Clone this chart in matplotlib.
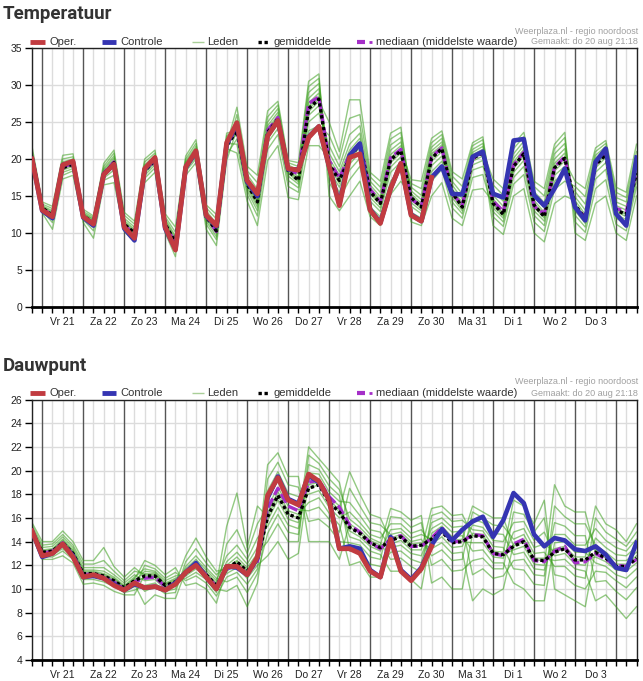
import numpy as np
import matplotlib
matplotlib.use('Agg')
import matplotlib.pyplot as plt
from matplotlib.lines import Line2D

plt.rcParams['font.family'] = ['Liberation Sans', 'DejaVu Sans']

# tijdstappen van 6 uur, vanaf do 20 aug 18:00
dag_labels = ['Vr 21', 'Za 22', 'Zo 23', 'Ma 24', 'Di 25', 'Wo 26', 'Do 27',
              'Vr 28', 'Za 29', 'Zo 30', 'Ma 31', 'Di 1', 'Wo 2', 'Do 3']

# ---------------- Temperatuur ----------------
temp_oper = [20.0, 13.1, 12.2, 19.2, 19.7, 12.2, 11.2, 17.9, 19.3, 10.8,
             9.3, 18.7, 20.2, 10.8, 7.7, 18.9, 21.1, 12.4, 11.0, 22.2,
             24.9, 17.1, 15.3, 23.1, 25.2, 18.7, 18.5, 22.9, 24.4, 19.0,
             13.7, 20.2, 20.7, 13.1, 11.3, 16.0, 19.4, 12.4, 11.6, 17.5]

temp_controle = [20.0, 13.0, 12.0, 19.2, 19.6, 12.1, 11.0, 17.9, 19.3, 10.6,
                 9.0, 18.6, 20.1, 10.6, 7.8, 18.8, 21.0, 12.3, 10.9, 22.0,
                 24.7, 16.9, 15.0, 23.2, 25.2, 18.6, 18.6, 23.0, 24.4, 19.0,
                 13.9, 20.5, 22.1, 13.2, 11.4, 16.0, 19.4, 12.5, 11.6, 17.5,
                 19.0, 15.3, 15.2, 20.3, 21.0, 15.3, 14.8, 22.5, 22.7, 15.1,
                 13.7, 16.0, 18.7, 13.5, 11.7, 19.6, 21.4, 12.6, 11.0, 20.2]

temp_gemiddelde = [20.3, 13.4, 12.4, 18.8, 19.3, 12.3, 11.4, 18.0, 19.5, 11.2,
                   10.0, 18.4, 19.8, 11.2, 8.7, 19.0, 20.8, 12.2, 10.3, 21.8,
                   23.8, 16.6, 14.2, 23.6, 25.4, 18.4, 17.1, 26.8, 28.1, 19.3,
                   17.1, 20.2, 22.0, 15.6, 14.0, 19.9, 21.1, 14.8, 13.5, 20.1,
                   21.4, 15.5, 13.5, 20.1, 20.8, 14.0, 12.5, 19.0, 20.7, 13.8,
                   12.2, 18.8, 20.1, 13.8, 11.9, 19.2, 20.6, 13.1, 12.5, 18.1]

temp_mediaan = [20.2, 13.4, 12.3, 18.9, 19.4, 12.3, 11.3, 18.1, 19.6, 11.1,
                9.8, 18.5, 19.9, 11.1, 8.6, 19.1, 20.9, 12.3, 10.2, 22.0,
                24.0, 16.9, 14.9, 23.9, 25.6, 18.6, 18.0, 27.5, 28.4, 19.8,
                17.4, 20.6, 22.2, 15.9, 14.2, 20.2, 21.3, 14.6, 13.6, 20.3,
                21.5, 15.3, 13.8, 20.0, 20.9, 14.3, 12.9, 19.2, 20.9, 13.6,
                12.6, 18.9, 20.3, 13.4, 12.2, 19.3, 20.7, 13.3, 12.9, 18.3]

# ensembleleden: een rij per tijdstap, een kolom per lid
temp_leden = [
    [19.0, 19.6, 19.9, 20.1, 20.2, 20.3, 20.4, 20.5, 20.7, 20.9, 21.2, 21.7],
    [12.7, 13.0, 13.1, 13.2, 13.3, 13.4, 13.4, 13.5, 13.6, 13.7, 13.9, 14.2],
    [10.5, 11.4, 11.8, 12.1, 12.3, 12.4, 12.5, 12.6, 12.8, 13.0, 13.3, 13.6],
    [17.3, 17.8, 18.2, 18.5, 18.7, 18.8, 18.9, 19.1, 19.3, 19.6, 20.0, 20.5],
    [17.8, 18.4, 18.7, 19.0, 19.2, 19.3, 19.4, 19.6, 19.8, 20.0, 20.3, 20.7],
    [11.4, 11.8, 12.0, 12.1, 12.2, 12.3, 12.4, 12.5, 12.6, 12.7, 12.9, 13.2],
    [9.3, 10.3, 10.8, 11.1, 11.3, 11.4, 11.5, 11.6, 11.8, 11.9, 12.1, 12.3],
    [16.5, 17.1, 17.4, 17.7, 17.9, 18.0, 18.1, 18.3, 18.5, 18.7, 19.0, 19.4],
    [16.8, 17.8, 18.5, 19.0, 19.3, 19.5, 19.6, 19.8, 20.1, 20.4, 20.8, 21.2],
    [10.2, 10.6, 10.8, 11.0, 11.1, 11.2, 11.3, 11.5, 11.7, 12.0, 12.4, 12.8],
    [8.8, 9.2, 9.5, 9.7, 9.9, 10.0, 10.1, 10.3, 10.5, 10.8, 11.2, 11.6],
    [16.8, 17.4, 17.8, 18.1, 18.3, 18.4, 18.5, 18.7, 18.9, 19.2, 19.6, 20.0],
    [18.2, 18.8, 19.2, 19.5, 19.7, 19.8, 19.9, 20.1, 20.3, 20.5, 20.8, 21.2],
    [10.0, 10.5, 10.8, 11.0, 11.1, 11.2, 11.3, 11.5, 11.7, 11.9, 12.2, 12.6],
    [6.8, 7.6, 8.0, 8.3, 8.5, 8.7, 8.8, 9.0, 9.3, 9.6, 10.1, 10.8],
    [17.8, 18.3, 18.6, 18.8, 18.9, 19.0, 19.1, 19.3, 19.5, 19.7, 20.0, 20.4],
    [19.5, 20.0, 20.3, 20.5, 20.7, 20.8, 20.9, 21.1, 21.4, 21.7, 22.1, 22.6],
    [10.5, 11.2, 11.6, 11.9, 12.1, 12.2, 12.3, 12.5, 12.7, 13.0, 13.4, 13.8],
    [8.3, 9.1, 9.5, 9.9, 10.1, 10.3, 10.4, 10.6, 10.9, 11.3, 11.9, 12.5],
    [19.8, 20.6, 21.0, 21.4, 21.6, 21.8, 21.9, 22.1, 22.4, 22.7, 23.1, 23.5],
    [24.0, 22.7, 26.0, 20.8, 24.7, 23.6, 27.0, 22.0, 25.2, 23.2, 24.3, 23.8],
    [16.8, 15.7, 18.4, 14.3, 17.4, 16.4, 19.0, 15.2, 17.9, 16.1, 17.0, 16.6],
    [14.4, 13.0, 16.8, 11.0, 15.2, 13.9, 17.8, 12.3, 15.9, 13.5, 14.7, 14.2],
    [23.8, 22.2, 25.7, 19.8, 24.5, 23.3, 26.5, 21.3, 25.0, 22.8, 24.1, 23.6],
    [25.6, 24.1, 27.3, 21.8, 26.3, 25.1, 27.8, 23.3, 26.8, 24.7, 25.9, 25.4],
    [18.5, 17.1, 19.5, 14.8, 18.9, 18.1, 19.8, 16.3, 19.2, 17.7, 18.7, 18.4],
    [17.3, 16.1, 19.0, 14.5, 18.0, 16.9, 19.5, 15.5, 18.5, 16.6, 17.6, 17.1],
    [27.1, 25.0, 29.8, 21.8, 28.2, 26.4, 30.5, 23.8, 29.0, 25.9, 27.6, 26.8],
    [28.4, 26.2, 30.9, 21.8, 29.5, 27.8, 31.5, 24.5, 30.2, 27.2, 28.9, 28.1],
    [18.5, 21.8, 16.8, 20.1, 19.3, 25.0, 15.0, 23.2, 19.0, 20.8, 17.8, 19.6],
    [16.2, 19.0, 14.6, 17.8, 17.1, 21.0, 13.0, 20.0, 16.7, 18.3, 15.5, 17.4],
    [19.3, 23.3, 17.2, 21.2, 20.2, 28.0, 15.0, 25.5, 19.9, 22.0, 18.5, 20.6],
    [20.9, 24.5, 19.0, 22.8, 22.0, 28.0, 17.0, 26.0, 21.6, 23.5, 20.1, 22.3],
    [14.8, 17.0, 13.5, 16.1, 15.6, 18.2, 12.2, 17.6, 15.3, 16.5, 14.3, 15.8],
    [13.4, 15.5, 12.2, 14.5, 14.0, 17.0, 11.0, 16.2, 13.8, 14.9, 12.9, 14.2],
    [18.9, 21.9, 17.0, 20.6, 19.9, 23.5, 15.2, 22.7, 19.5, 21.2, 18.2, 20.2],
    [20.3, 22.9, 18.6, 21.8, 21.1, 24.3, 17.0, 23.6, 20.8, 22.3, 19.6, 21.4],
    [11.5, 12.8, 13.6, 14.1, 14.5, 14.8, 15.0, 15.3, 15.7, 16.2, 16.7, 17.2],
    [11.0, 12.0, 12.6, 13.0, 13.3, 13.5, 13.7, 14.0, 14.5, 15.1, 16.0, 17.0],
    [15.0, 17.0, 18.3, 19.1, 19.7, 20.1, 20.4, 20.7, 21.1, 21.6, 22.2, 22.8],
    [16.8, 18.6, 19.7, 20.4, 21.0, 21.4, 21.6, 21.9, 22.3, 22.8, 23.3, 23.8],
    [12.0, 13.4, 14.2, 14.8, 15.2, 15.5, 15.7, 16.0, 16.5, 17.0, 17.7, 18.3],
    [11.0, 12.0, 12.6, 13.0, 13.3, 13.5, 13.7, 14.1, 14.6, 15.3, 16.3, 17.3],
    [15.8, 17.5, 18.5, 19.2, 19.7, 20.1, 20.3, 20.6, 20.9, 21.3, 21.8, 22.2],
    [16.0, 17.9, 19.0, 19.8, 20.4, 20.8, 21.0, 21.3, 21.7, 22.1, 22.6, 23.0],
    [14.2, 12.9, 16.5, 11.0, 15.1, 13.8, 17.3, 12.2, 15.7, 13.4, 14.6, 14.0],
    [12.7, 11.5, 15.1, 9.8, 13.6, 12.3, 16.0, 10.9, 14.3, 12.0, 13.1, 12.5],
    [19.2, 17.5, 21.4, 15.0, 20.1, 18.7, 22.0, 16.6, 20.7, 18.2, 19.6, 19.0],
    [20.9, 19.0, 23.0, 16.0, 21.8, 20.4, 23.6, 17.9, 22.4, 19.8, 21.3, 20.7],
    [14.0, 12.4, 16.3, 10.0, 14.9, 13.5, 17.0, 11.5, 15.6, 13.0, 14.4, 13.8],
    [12.4, 11.0, 15.0, 8.8, 13.4, 12.0, 16.0, 10.2, 14.1, 11.6, 12.8, 12.2],
    [19.0, 17.0, 21.4, 14.0, 20.0, 18.4, 22.0, 15.9, 20.7, 17.8, 19.4, 18.8],
    [20.3, 18.2, 22.9, 15.0, 21.4, 19.7, 23.6, 17.0, 22.1, 19.0, 20.8, 20.1],
    [13.0, 15.6, 11.5, 14.4, 13.8, 17.0, 10.0, 16.3, 13.5, 14.9, 12.4, 14.0],
    [11.3, 13.9, 10.1, 12.5, 11.9, 16.0, 9.0, 14.9, 11.7, 13.1, 10.8, 12.1],
    [18.2, 20.5, 16.0, 19.7, 19.2, 21.5, 14.0, 21.0, 18.8, 20.1, 17.3, 19.4],
    [19.5, 21.7, 17.2, 21.0, 20.6, 22.5, 15.0, 22.1, 20.2, 21.3, 18.6, 20.8],
    [12.5, 14.8, 11.2, 13.7, 13.1, 16.2, 10.0, 15.5, 12.9, 14.2, 12.0, 13.3],
    [11.8, 14.2, 10.3, 13.1, 12.5, 15.5, 9.0, 14.8, 12.2, 13.6, 11.2, 12.7],
    [17.4, 20.0, 16.2, 18.7, 18.1, 22.0, 15.0, 21.0, 17.8, 19.3, 16.9, 18.3],
]

# ---------------- Dauwpunt ----------------
dauw_oper = [14.9, 12.8, 13.0, 13.8, 12.7, 11.0, 11.2, 10.9, 10.3, 9.9,
             10.5, 10.1, 10.2, 9.9, 10.4, 11.4, 12.0, 11.0, 10.0, 11.9,
             11.9, 11.2, 12.7, 17.9, 19.4, 17.5, 17.1, 19.7, 19.1, 17.5,
             13.4, 13.4, 13.0, 11.5, 11.0, 14.2, 11.5, 10.7, 11.7, 13.6]

dauw_controle = [14.9, 12.7, 13.0, 13.8, 12.8, 11.0, 11.1, 10.9, 10.4, 9.9,
                 10.4, 10.1, 10.2, 9.9, 10.5, 11.4, 12.2, 11.0, 10.0, 11.9,
                 11.8, 11.2, 12.6, 17.7, 19.5, 17.6, 17.2, 19.6, 19.0, 17.6,
                 13.4, 13.6, 13.4, 11.6, 11.0, 14.4, 11.6, 10.8, 11.8, 13.7,
                 15.05, 14.1, 15.0, 15.7, 16.1, 14.4, 15.8, 18.1, 17.25, 14.6,
                 13.6, 14.3, 14.1, 13.35, 13.2, 13.6, 12.9, 11.8, 11.6, 13.9]

dauw_gemiddelde = [14.9, 13.1, 13.2, 13.9, 13.0, 11.3, 11.3, 11.1, 10.7, 10.1,
                   10.7, 11.1, 11.1, 10.3, 10.6, 11.3, 12.0, 11.2, 10.3, 11.7,
                   12.3, 11.5, 12.5, 16.1, 17.9, 16.3, 16.0, 18.5, 18.8, 17.3,
                   16.5, 15.2, 14.7, 13.9, 13.5, 14.1, 14.4, 13.6, 13.7, 14.2,
                   14.85, 13.9, 14.0, 14.5, 14.4, 13.0, 12.9, 13.6, 14.0, 12.45,
                   12.4, 13.1, 13.4, 12.45, 12.45, 13.1, 12.6, 11.9, 11.9, 12.6]

dauw_mediaan = [14.9, 13.0, 13.2, 13.9, 12.9, 11.2, 11.3, 11.0, 10.6, 10.0,
                10.6, 10.9, 11.0, 10.2, 10.5, 11.3, 12.1, 11.2, 10.2, 11.7,
                12.0, 11.3, 12.3, 16.8, 18.5, 17.0, 16.6, 19.0, 19.2, 17.8,
                16.9, 15.4, 14.8, 13.9, 13.4, 14.2, 14.5, 13.6, 13.6, 14.3,
                15.2, 14.0, 14.0, 14.6, 14.5, 13.0, 12.8, 13.8, 14.2, 12.4,
                12.3, 13.2, 13.6, 12.2, 12.3, 13.0, 12.5, 12.0, 11.9, 12.5]

dauw_leden = [
    [14.5, 14.6, 14.7, 14.8, 14.85, 14.9, 14.95, 15.0, 15.1, 15.2, 15.4, 15.6],
    [12.5, 12.7, 12.8, 12.9, 13.0, 13.1, 13.15, 13.2, 13.3, 13.5, 13.7, 14.0],
    [12.5, 12.7, 12.9, 13.0, 13.1, 13.2, 13.25, 13.3, 13.4, 13.6, 13.8, 14.0],
    [12.8, 13.2, 13.4, 13.6, 13.8, 13.9, 14.0, 14.1, 14.2, 14.4, 14.6, 14.9],
    [12.2, 12.5, 12.7, 12.8, 12.9, 13.0, 13.1, 13.2, 13.3, 13.5, 13.7, 14.0],
    [10.4, 10.8, 11.0, 11.1, 11.2, 11.3, 11.4, 11.5, 11.6, 11.8, 12.1, 12.4],
    [10.5, 10.8, 11.0, 11.1, 11.2, 11.3, 11.4, 11.5, 11.6, 11.8, 12.1, 12.4],
    [10.3, 10.6, 10.8, 10.9, 11.0, 11.1, 11.2, 11.3, 11.5, 11.8, 12.4, 13.5],
    [9.8, 10.2, 10.4, 10.5, 10.6, 10.7, 10.8, 10.9, 11.0, 11.2, 11.5, 11.9],
    [9.5, 9.7, 9.8, 9.9, 10.0, 10.1, 10.15, 10.2, 10.3, 10.5, 10.7, 11.0],
    [9.5, 9.9, 10.2, 10.4, 10.6, 10.7, 10.8, 10.9, 11.0, 11.2, 11.5, 11.8],
    [11.2, 10.3, 12.0, 8.7, 11.5, 10.9, 12.4, 9.8, 11.7, 10.7, 11.3, 11.1],
    [11.2, 10.5, 11.7, 9.5, 11.4, 11.0, 12.0, 10.2, 11.5, 10.8, 11.3, 11.1],
    [10.35, 9.8, 10.9, 9.2, 10.5, 10.2, 11.2, 9.6, 10.7, 10.0, 10.4, 10.3],
    [10.7, 10.0, 11.4, 9.2, 10.9, 10.5, 11.8, 9.7, 11.1, 10.3, 10.8, 10.6],
    [11.1, 11.9, 10.7, 11.5, 11.3, 12.8, 10.3, 12.3, 11.2, 11.7, 10.9, 11.4],
    [11.7, 12.8, 11.1, 12.3, 12.0, 14.3, 10.5, 13.4, 11.9, 12.5, 11.4, 12.1],
    [11.0, 11.8, 10.5, 11.4, 11.2, 12.7, 10.0, 12.2, 11.1, 11.6, 10.8, 11.3],
    [10.0, 10.9, 9.4, 10.5, 10.3, 11.5, 8.8, 11.2, 10.2, 10.7, 9.7, 10.4],
    [9.8, 10.6, 11.0, 11.3, 11.5, 11.7, 11.8, 12.0, 12.3, 12.8, 13.8, 15.3],
    [10.3, 11.0, 11.4, 11.8, 12.1, 12.3, 12.4, 12.7, 13.1, 13.7, 15.0, 18.1],
    [8.5, 9.7, 10.4, 10.9, 11.2, 11.5, 11.6, 11.8, 12.1, 12.5, 13.0, 13.5],
    [10.5, 11.3, 11.7, 12.0, 12.3, 12.5, 12.7, 13.0, 13.5, 14.3, 15.5, 17.0],
    [16.4, 14.7, 19.3, 12.8, 17.5, 15.8, 20.5, 14.0, 18.3, 15.3, 16.9, 16.1],
    [18.2, 16.3, 20.7, 14.0, 19.2, 17.5, 21.5, 15.5, 19.9, 16.9, 18.6, 17.9],
    [16.6, 14.8, 18.8, 12.5, 17.5, 15.9, 19.5, 14.0, 18.1, 15.4, 17.0, 16.3],
    [16.3, 14.6, 18.6, 13.0, 17.2, 15.6, 19.5, 14.0, 17.8, 15.1, 16.7, 16.0],
    [17.3, 20.5, 15.7, 19.2, 18.5, 22.0, 14.0, 21.3, 18.0, 19.8, 16.6, 18.8],
    [17.7, 20.1, 15.9, 19.3, 18.8, 21.0, 14.0, 20.6, 18.3, 19.7, 16.9, 19.0],
    [16.4, 18.7, 15.2, 17.8, 17.3, 20.0, 14.0, 19.3, 16.9, 18.2, 15.9, 17.5],
    [15.4, 17.9, 14.0, 17.0, 16.5, 19.0, 12.5, 18.4, 16.0, 17.4, 14.8, 16.7],
    [12.0, 13.2, 13.9, 14.4, 14.9, 15.2, 15.5, 15.9, 16.5, 17.3, 18.5, 19.9],
    [12.3, 13.2, 13.7, 14.1, 14.4, 14.7, 14.9, 15.2, 15.6, 16.2, 17.0, 18.0],
    [11.0, 12.1, 12.7, 13.2, 13.6, 13.9, 14.1, 14.3, 14.6, 15.0, 15.6, 16.3],
    [11.0, 11.9, 12.5, 12.9, 13.2, 13.5, 13.7, 13.9, 14.3, 14.8, 15.4, 16.0],
    [14.3, 13.1, 16.1, 11.5, 15.0, 13.8, 16.8, 12.5, 15.5, 13.5, 14.6, 14.1],
    [14.6, 13.2, 16.0, 11.5, 15.1, 14.1, 16.5, 12.6, 15.5, 13.7, 14.8, 14.4],
    [13.8, 12.5, 15.2, 10.8, 14.3, 13.3, 15.8, 11.9, 14.7, 13.0, 14.0, 13.6],
    [13.9, 12.2, 15.6, 10.0, 14.6, 13.3, 16.2, 11.4, 15.0, 12.8, 14.2, 13.7],
    [13.4, 15.6, 12.0, 14.7, 14.2, 16.8, 10.5, 16.2, 13.8, 15.1, 12.8, 14.4],
    [13.9, 16.0, 12.5, 15.3, 14.85, 17.0, 11.0, 16.5, 14.4, 15.6, 13.3, 15.0],
    [13.0, 15.2, 11.5, 14.4, 13.9, 16.2, 10.0, 15.7, 13.5, 14.8, 12.4, 14.1],
    [13.1, 15.3, 11.6, 14.5, 14.0, 16.3, 10.0, 15.8, 13.6, 14.9, 12.5, 14.2],
    [9.0, 11.2, 12.4, 13.2, 13.9, 14.5, 14.7, 15.0, 15.4, 15.9, 16.5, 17.0],
    [10.0, 11.7, 12.6, 13.3, 13.9, 14.4, 14.6, 14.9, 15.2, 15.6, 16.0, 16.5],
    [9.5, 10.9, 11.7, 12.2, 12.7, 13.0, 13.2, 13.6, 14.1, 14.7, 15.4, 16.0],
    [10.0, 11.1, 11.7, 12.2, 12.6, 12.9, 13.1, 13.5, 14.0, 14.6, 15.3, 16.0],
    [13.8, 12.4, 16.5, 10.5, 14.8, 13.3, 17.5, 11.7, 15.6, 12.9, 14.2, 13.6],
    [14.2, 12.5, 16.3, 10.0, 15.1, 13.6, 17.0, 11.6, 15.7, 13.1, 14.6, 14.0],
    [12.6, 11.2, 14.8, 9.0, 13.5, 12.1, 15.5, 10.4, 14.1, 11.7, 13.0, 12.45],
    [12.6, 11.1, 16.0, 9.0, 13.8, 12.0, 17.5, 10.3, 14.8, 11.6, 13.1, 12.4],
    [12.4, 15.6, 11.2, 13.9, 13.1, 18.8, 10.0, 17.0, 12.8, 14.6, 11.9, 13.4],
    [12.5, 15.3, 11.0, 14.0, 13.4, 17.0, 9.5, 16.1, 13.0, 14.6, 11.9, 13.6],
    [11.7, 14.5, 10.3, 13.1, 12.45, 16.5, 9.0, 15.5, 12.1, 13.7, 11.1, 12.7],
    [11.5, 14.5, 10.0, 13.1, 12.45, 16.5, 8.5, 15.5, 12.0, 13.7, 10.9, 12.7],
    [9.0, 10.6, 11.5, 12.2, 12.7, 13.1, 13.3, 13.7, 14.3, 15.1, 16.0, 17.0],
    [9.5, 10.7, 11.4, 11.9, 12.3, 12.6, 12.8, 13.1, 13.5, 14.1, 14.8, 15.5],
    [8.5, 9.8, 10.7, 11.2, 11.6, 11.9, 12.1, 12.4, 12.9, 13.5, 14.2, 15.0],
    [7.5, 9.1, 10.1, 10.9, 11.5, 11.9, 12.1, 12.4, 12.8, 13.2, 13.6, 14.0],
    [8.5, 10.1, 11.0, 11.7, 12.2, 12.6, 12.8, 13.1, 13.6, 14.2, 14.8, 15.5],
]

W, H = 643, 681


def fx(px):
    return px / W


def fy(py):
    return 1 - py / H


def draw_panel(ax, leden, gemiddelde, mediaan, controle, oper, ymin, ymax, ystep):
    tijd = np.arange(len(gemiddelde))
    n = len(tijd)

    # raster: licht per 6 uur, donker om middernacht
    for t in tijd:
        if t % 4 == 1:
            ax.axvline(t, color='#555555', lw=1, zorder=1)
        else:
            ax.axvline(t, color='#dcdcdc', lw=1, zorder=0)
    ax.yaxis.grid(True, color='#dcdcdc', lw=1, zorder=0)
    ax.set_axisbelow(True)

    ax.plot(tijd, np.array(leden), color='#3a9e1c', lw=1.0, alpha=0.55, zorder=2)
    ax.plot(tijd, mediaan, color='#a52fc8', lw=2.4, ls=(0, (3, 1.2)), zorder=3)
    ax.plot(tijd, gemiddelde, color='black', lw=2.4, ls=(0, (1, 0.8)), zorder=4)
    ax.plot(tijd[:len(controle)], controle, color='#3535b2', lw=3.3, zorder=5)
    ax.plot(tijd[:len(oper)], oper, color='#c13b40', lw=3.5, zorder=6)

    ax.set_xlim(0, n - 1)
    ax.set_ylim(ymin, ymax)
    ax.set_yticks(np.arange(ymin, ymax + 0.1, ystep))

    label_pos = [3 + 4 * k for k in range(len(dag_labels))]
    ax.set_xticks(label_pos)
    ax.set_xticklabels(dag_labels)
    ax.set_xticks(tijd, minor=True)
    ax.tick_params(axis='x', which='both', direction='out', length=4, width=1,
                   color='black', labelsize=7.5, labelcolor='#222222', pad=3)
    ax.tick_params(axis='y', direction='out', length=5, width=1, color='black',
                   labelsize=7.5, labelcolor='#222222', pad=2)

    for side in ['left', 'right', 'top']:
        ax.spines[side].set_color('#222222')
        ax.spines[side].set_linewidth(1)
    ax.spines['bottom'].set_color('black')
    ax.spines['bottom'].set_linewidth(2)


def draw_header(fig, titel, y_titel, y_leg):
    fig.text(fx(3), fy(y_titel), titel, fontsize=13.5, fontweight='bold',
             color='#333333', va='center', ha='left', family=['Roboto', 'DejaVu Sans'])
    fig.text(fx(638), fy(y_leg - 11), 'Weerplaza.nl - regio noordoost', fontsize=6.5,
             color='#a0a0a0', ha='right', va='center')
    fig.text(fx(638), fy(y_leg), 'Gemaakt: do 20 aug 21:18', fontsize=6.5,
             color='#a0a0a0', ha='right', va='center')

    yy = fy(y_leg)
    items = [
        (30, 45, '#c13b40', 3.5, '-', 50, 'Oper.'),
        (102, 116, '#3535b2', 3.5, '-', 120, 'Controle'),
        (192, 204, '#a9cf98', 1.0, '-', 207, 'Leden'),
        (258, 270, 'black', 2.4, (0, (1, 0.8)), 274, 'gemiddelde'),
        (357, 365, '#a52fc8', 3.0, '-', 376, 'mediaan (middelste waarde)'),
    ]
    for x0, x1, kleur, lw, ls, xt, tekst in items:
        fig.add_artist(Line2D([fx(x0), fx(x1)], [yy, yy], color=kleur, lw=lw, ls=ls,
                              solid_capstyle='butt', dash_capstyle='butt',
                              transform=fig.transFigure))
        fig.text(fx(xt), yy, tekst, fontsize=8, color='#333333', va='center', ha='left')
    fig.add_artist(Line2D([fx(369), fx(371.5)], [yy, yy], color='#a52fc8', lw=2.0,
                          solid_capstyle='butt', transform=fig.transFigure))


fig = plt.figure(figsize=(W / 100, H / 100), dpi=100)
ax1 = fig.add_axes([fx(32), fy(307), fx(636.5) - fx(32), (307 - 48) / H])
ax2 = fig.add_axes([fx(32), fy(660), fx(636.5) - fx(32), (660 - 399.5) / H])

draw_panel(ax1, temp_leden, temp_gemiddelde, temp_mediaan, temp_controle, temp_oper, 0, 35, 5)
draw_panel(ax2, dauw_leden, dauw_gemiddelde, dauw_mediaan, dauw_controle, dauw_oper, 4, 26, 2)

draw_header(fig, 'Temperatuur', 14, 42)
draw_header(fig, 'Dauwpunt', 366, 393)

fig.savefig('out.png', dpi=100)
